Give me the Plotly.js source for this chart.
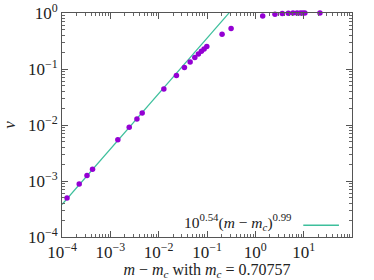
<!DOCTYPE html>
<html><head><meta charset="utf-8">
<script src="https://cdn.plot.ly/plotly-3.0.1.min.js"></script>
<style>html,body{margin:0;padding:0;background:#fff}#c{width:374px;height:280px}</style>
</head><body><div id="c"></div>
<script>
const dm = [1.27e-4, 2.27e-4, 3.29e-4, 4.28e-4, 1.43e-3, 2.46e-3, 3.55e-3, 4.56e-3, 0.0128, 0.0233, 0.0341, 0.0448, 0.056, 0.0664, 0.0766, 0.0871, 0.099, 0.205, 0.315, 1.42, 2.55, 3.61, 4.81, 6.01, 7.28, 8.52, 9.53, 10.6, 21.7];
const v  = [4.97e-4, 8.84e-4, 1.25e-3, 1.62e-3, 5.48e-3, 9.1e-3, 0.0128, 0.0164, 0.044, 0.0762, 0.106, 0.133, 0.160, 0.185, 0.207, 0.228, 0.251, 0.417, 0.526, 0.88, 0.95, 0.975, 0.99, 0.995, 0.997, 0.998, 0.999, 0.999, 0.999];
const fitLogA = 0.54, fitB = 0.99;
const fitX = [1e-4, 0.3];
const fitY = fitX.map(x => Math.pow(10, fitLogA) * Math.pow(x, fitB));
const xTicks = [1e-4, 1e-3, 1e-2, 1e-1, 1, 10];
const yTicks = [1e-4, 1e-3, 1e-2, 1e-1, 1];
const sup = n => '10<sup>' + (n < 0 ? '\u2212' + (-n) : n) + '</sup>';
const xTickText = xTicks.map(t => sup(Math.round(Math.log10(t))));
const yTickText = yTicks.map(t => sup(Math.round(Math.log10(t))));
const minorVals = (lo, hi) => { const o = []; for (let e = lo; e < hi; e++) for (let k = 2; k <= 9; k++) o.push(k * Math.pow(10, e)); return o; };
const font = 'Liberation Serif';
const teal = '#3dbf9c';
const ax = {
  type:'log', showgrid:false, zeroline:false, showline:true, linecolor:'#555', linewidth:1,
  mirror:'allticks', ticks:'inside', ticklen:6, tickcolor:'#555', tickwidth:1,
  tickfont:{family:font, size:17, color:'#222'}
};
const data = [
  {x: fitX, y: fitY, mode:'lines', line:{color:teal, width:1.2}, showlegend:false, hoverinfo:'skip'},
  {x: dm, y: v, mode:'markers', marker:{color:'#9400d3', size:5.5}, cliponaxis:false, showlegend:false}
];
const layout = {
  width:374, height:280, margin:{l:62, r:22, t:13, b:43},
  paper_bgcolor:'#fff', plot_bgcolor:'#fff', showlegend:false,
  xaxis: Object.assign({}, ax, {range:[-4, 2], tickvals:xTicks, ticktext:xTickText,
    minor:{tickvals:minorVals(-4, 2), ticks:'inside', ticklen:3, tickcolor:'#666', showgrid:false},
    title:{text:'<i>m</i> \u2212 <i>m<sub>c</sub></i> with <i>m<sub>c</sub></i> = 0.70757', font:{family:font, size:16, color:'#222'}, standoff:2}}),
  yaxis: Object.assign({}, ax, {range:[-4, 0], tickvals:yTicks, ticktext:yTickText,
    minor:{tickvals:minorVals(-4, 0), ticks:'inside', ticklen:3, tickcolor:'#666', showgrid:false},
    title:{text:'<i>v</i>', font:{family:font, size:17, color:'#222'}, standoff:8}}),
  annotations:[{xref:'paper', yref:'paper', x:0.80, y:0.068, xanchor:'right', yanchor:'middle', showarrow:false,
    text:'10<sup>0.54</sup>(<i>m</i> \u2212 <i>m<sub>c</sub></i>)<sup>0.99</sup>', font:{family:font, size:15.5, color:'#222'}}],
  shapes:[{type:'line', xref:'paper', yref:'paper', x0:0.832, x1:0.955, y0:0.052, y1:0.052, line:{color:teal, width:1.5}}]
};
Plotly.newPlot('c', data, layout, {displayModeBar:false, staticPlot:true});
</script></body></html>
